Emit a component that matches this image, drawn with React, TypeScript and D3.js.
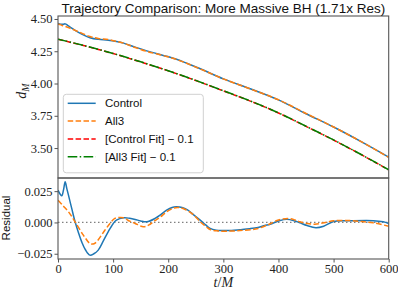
import React, { useEffect, useRef } from 'react';
import * as d3 from 'd3';

// top panel: separation d_M vs t/M
const tTop = [0, 5, 10, 13, 17, 22, 31, 43, 58, 73, 91, 106, 119, 140, 161, 197, 215, 258, 300, 350, 400, 450, 500, 550, 600];
const controlD = [4.466, 4.460, 4.459, 4.462, 4.452, 4.437, 4.412, 4.383, 4.355, 4.342, 4.336, 4.326, 4.313, 4.282, 4.253, 4.211, 4.188, 4.114, 4.036, 3.957, 3.873, 3.766, 3.663, 3.550, 3.430];
const all3D = [4.461, 4.454, 4.446, 4.442, 4.436, 4.428, 4.412, 4.390, 4.364, 4.349, 4.341, 4.327, 4.313, 4.279, 4.249, 4.210, 4.187, 4.113, 4.036, 3.956, 3.874, 3.768, 3.663, 3.550, 3.428];

// fits (drawn shifted down by 0.1)
const tFit = [0, 50, 100, 150, 200, 250, 300, 350, 400, 450, 500, 550, 600];
const controlFit = [4.443, 4.390, 4.332, 4.267, 4.198, 4.123, 4.043, 3.962, 3.872, 3.768, 3.662, 3.549, 3.431];
const all3Fit = [4.444, 4.391, 4.333, 4.268, 4.199, 4.124, 4.044, 3.963, 3.873, 3.769, 3.663, 3.550, 3.432];
const fitShift = 0.1;

// bottom panel: residuals
const tResC = [0, 4, 7, 10, 13, 16, 19, 25, 31, 37, 43, 50, 58, 65, 73, 82, 91, 100, 106, 119, 130, 140, 150, 161, 176, 187, 197, 207, 215, 225, 235, 245, 258, 268, 276, 287, 300, 315, 330, 348, 363, 375, 385, 400, 415, 430, 439, 452, 468, 482, 500, 530, 572, 590, 600];
const resControl = [0.0258, 0.0225, 0.0213, 0.026, 0.0325, 0.027, 0.0218, 0.011, 0.0005, -0.008, -0.0155, -0.022, -0.0261, -0.025, -0.0221, -0.015, -0.0075, -0.001, 0.0018, 0.0037, 0.0033, 0.0024, 0.0012, 0.0005, 0.0032, 0.0065, 0.0098, 0.012, 0.0125, 0.012, 0.01, 0.0065, 0.0018, -0.002, -0.0048, -0.0062, -0.0065, -0.0064, -0.0058, -0.005, -0.004, -0.0025, -0.0014, 0.0012, 0.0026, 0.0012, -0.0003, -0.0025, -0.0042, -0.003, 0.0008, 0.0013, 0.0014, 0.0005, -0.0008];
const tResA = [0, 10, 19, 31, 46, 58, 64, 70, 85, 95, 103, 119, 130, 140, 155, 165, 173, 185, 197, 210, 218, 230, 245, 258, 268, 276, 290, 300, 330, 363, 385, 400, 418, 430, 439, 452, 466, 480, 500, 530, 550, 572, 600];
const resAll3 = [0.0178, 0.013, 0.0085, 0.0005, -0.0101, -0.0168, -0.0172, -0.0155, -0.0062, -0.0005, 0.0032, 0.0037, 0.001, -0.0008, -0.0035, -0.002, 0.0005, 0.004, 0.0085, 0.0115, 0.012, 0.0105, 0.0065, 0.0005, -0.003, -0.0056, -0.0068, -0.007, -0.0065, -0.0048, -0.001, 0.002, 0.0032, 0.002, 0.0005, -0.0008, -0.0014, -0.0005, 0.0013, 0.0015, 0.0008, -0.0003, -0.003];

const xTicks = [0, 100, 200, 300, 400, 500, 600];
const yTopTicks = [3.5, 3.75, 4.0, 4.25, 4.5];
const yBotTicks = [-0.025, 0, 0.025];

const legendItems = [
  { label: 'Control', color: '#1f77b4', dash: null },
  { label: 'All3', color: '#ff7f0e', dash: '5.5,2.4' },
  { label: '[Control Fit] \u2212 0.1', color: 'red', dash: '5.5,2.4' },
  { label: '[All3 Fit] \u2212 0.1', color: 'green', dash: '9.6,2.4,1.5,2.4' },
];

const SERIF = "'Liberation Serif', 'DejaVu Serif', serif";
const SANS = "'Liberation Sans', Arial, sans-serif";

export default function App() {
  const ref = useRef<SVGSVGElement>(null);

  useEffect(() => {
    const svg = d3.select(ref.current);
    svg.selectAll('*').remove();

    const left = 58, right = 388.7, top = 16, mid = 178, bot = 259;

    const x = d3.scaleLinear().domain([0, 600]).range([left, right]);
    const yT = d3.scaleLinear().domain([3.268, 4.523]).range([mid, top]);
    const yB = d3.scaleLinear().domain([-0.0292, 0.0355]).range([bot, mid]);

    const defs = svg.append('defs');
    defs.append('clipPath').attr('id', 'clipTop').append('rect')
      .attr('x', left).attr('y', top).attr('width', right - left).attr('height', mid - top);
    defs.append('clipPath').attr('id', 'clipBot').append('rect')
      .attr('x', left).attr('y', mid).attr('width', right - left).attr('height', bot - mid);

    const pts = (ts: number[], vs: number[], off = 0) => ts.map((t, i) => [t, vs[i] - off] as [number, number]);

    const lineT = d3.line<[number, number]>().x(d => x(d[0])).y(d => yT(d[1])).curve(d3.curveCatmullRom.alpha(0.5));
    const lineB = d3.line<[number, number]>().x(d => x(d[0])).y(d => yB(d[1])).curve(d3.curveCatmullRom.alpha(0.5));

    // top panel lines
    const gT = svg.append('g').attr('clip-path', 'url(#clipTop)').attr('fill', 'none').attr('stroke-width', 1.5);
    gT.append('path').attr('d', lineT(pts(tTop, controlD))).attr('stroke', '#1f77b4');
    gT.append('path').attr('d', lineT(pts(tTop, all3D))).attr('stroke', '#ff7f0e').attr('stroke-dasharray', '5.5,2.4');
    gT.append('path').attr('d', lineT(pts(tFit, controlFit, fitShift))).attr('stroke', 'red').attr('stroke-dasharray', '5.5,2.4');
    gT.append('path').attr('d', lineT(pts(tFit, all3Fit, fitShift))).attr('stroke', 'green').attr('stroke-dasharray', '9.6,2.4,1.5,2.4');

    // bottom panel
    const gB = svg.append('g').attr('clip-path', 'url(#clipBot)').attr('fill', 'none').attr('stroke-width', 1.5);
    gB.append('line').attr('x1', left).attr('x2', right).attr('y1', yB(0)).attr('y2', yB(0))
      .attr('stroke', 'gray').attr('stroke-width', 1.3).attr('stroke-dasharray', '1.5,2.5');
    gB.append('path').attr('d', lineB(pts(tResC, resControl))).attr('stroke', '#1f77b4');
    gB.append('path').attr('d', lineB(pts(tResA, resAll3))).attr('stroke', '#ff7f0e').attr('stroke-dasharray', '5.5,2.4');

    // axes
    const styleAxis = (g: d3.Selection<SVGGElement, unknown, null, undefined>) => {
      g.select('.domain').remove();
      g.selectAll('line').attr('stroke', '#555').attr('stroke-width', 1);
      g.selectAll('text').attr('fill', '#222').attr('font-family', SERIF).attr('font-size', 12.5);
    };
    svg.append('g').attr('transform', `translate(${left},0)`)
      .call(d3.axisLeft(yT).tickValues(yTopTicks).tickFormat(d3.format('.2f')).tickSize(3.5).tickPadding(2))
      .call(styleAxis);
    svg.append('g').attr('transform', `translate(${left},0)`)
      .call(d3.axisLeft(yB).tickValues(yBotTicks).tickFormat(d3.format('.3f')).tickSize(3.5).tickPadding(2))
      .call(styleAxis);
    svg.append('g').attr('transform', `translate(0,${bot})`)
      .call(d3.axisBottom(x).tickValues(xTicks).tickFormat(d3.format('d')).tickSize(3.5).tickPadding(2))
      .call(styleAxis);

    // frames
    [[top, mid], [mid, bot]].forEach(([a, b]) => {
      svg.append('rect').attr('x', left).attr('y', a).attr('width', right - left).attr('height', b - a)
        .attr('fill', 'none').attr('stroke', '#555').attr('stroke-width', 1.1);
    });

    // legend
    const lg = svg.append('g');
    lg.append('rect').attr('x', 63.3).attr('y', 94.3).attr('width', 140).attr('height', 78.5)
      .attr('rx', 3).attr('fill', 'white').attr('fill-opacity', 0.8).attr('stroke', '#d0d0d0').attr('stroke-width', 1);
    legendItems.forEach((item, i) => {
      const cy = 103.3 + i * 17.8;
      const l = lg.append('line').attr('x1', 67.7).attr('x2', 95.7).attr('y1', cy).attr('y2', cy)
        .attr('stroke', item.color).attr('stroke-width', 1.5);
      if (item.dash) l.attr('stroke-dasharray', item.dash);
      lg.append('text').attr('x', 105).attr('y', cy + 4).attr('font-family', SANS).attr('font-size', 11.5)
        .attr('fill', '#111').text(item.label);
    });

    // title and labels
    svg.append('text').attr('x', (left + right) / 2).attr('y', 12.8).attr('text-anchor', 'middle')
      .attr('font-family', SANS).attr('font-size', 13.5).attr('fill', '#111')
      .text('Trajectory Comparison: More Massive BH (1.71x Res)');

    const yl = svg.append('text').attr('transform', 'translate(26,91) rotate(-90)').attr('text-anchor', 'middle')
      .attr('font-family', SERIF).attr('font-style', 'italic').attr('font-size', 14).attr('fill', '#222');
    yl.append('tspan').text('d');
    yl.append('tspan').attr('font-size', 10).attr('dy', 3).text('M');

    svg.append('text').attr('transform', 'translate(9.5,218) rotate(-90)').attr('text-anchor', 'middle')
      .attr('font-family', SANS).attr('font-size', 11.5).attr('fill', '#111').text('Residual');

    const xl = svg.append('text').attr('x', (left + right) / 2).attr('y', 287).attr('text-anchor', 'middle')
      .attr('font-family', SERIF).attr('font-size', 14).attr('fill', '#222');
    xl.append('tspan').attr('font-style', 'italic').text('t');
    xl.append('tspan').text('/');
    xl.append('tspan').attr('font-style', 'italic').text('M');
  }, []);

  return (
    <svg ref={ref} width={398} height={292}
      style={{ position: 'absolute', left: 0, top: 0, background: 'white' }} />
  );
}
